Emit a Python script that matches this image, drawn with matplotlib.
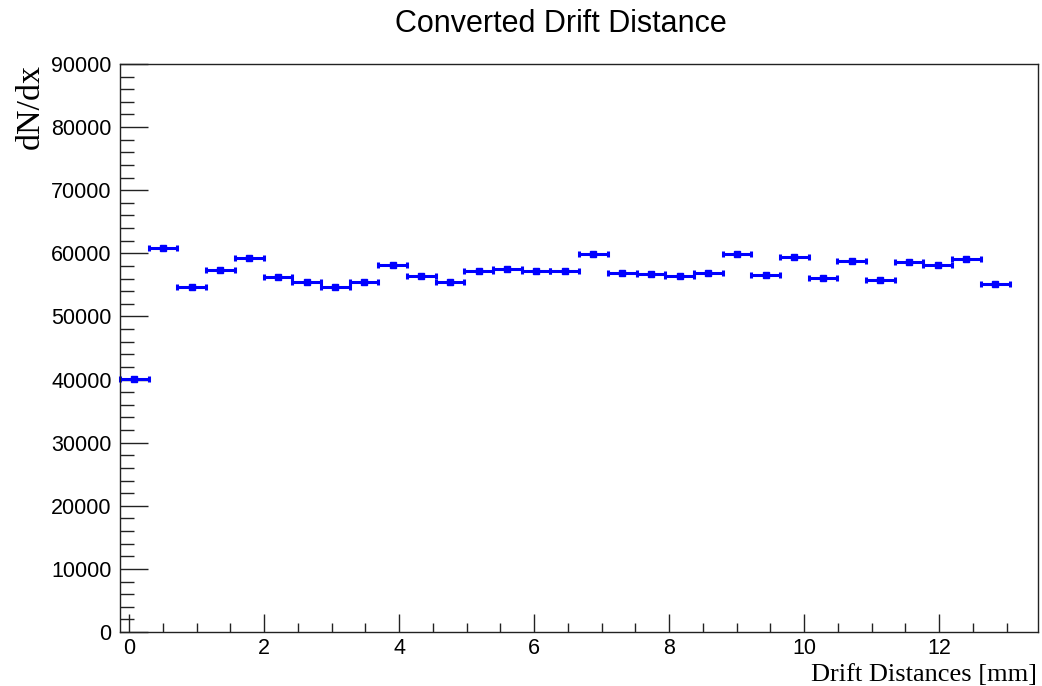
import numpy as np
import matplotlib
matplotlib.use("Agg")
import matplotlib.pyplot as plt
from matplotlib.ticker import MultipleLocator

# Contenu des bins, 32 bins dont le dernier est vide
bin_debut = -0.133
largeur_bin = 0.425
contenus = [40100, 60900, 54700, 57300, 59200, 56250, 55500, 54700, 55400, 58150,
            56400, 55400, 57250, 57500, 57150, 57150, 59900, 56900, 56700, 56450,
            56900, 59850, 56600, 59400, 56050, 58800, 55800, 58600, 58150, 59150,
            55150]
x_min, x_max = -0.133, 13.46
y_min, y_max = 0, 90000

centres = bin_debut + largeur_bin * (np.arange(len(contenus)) + 0.5)

fig = plt.figure(figsize=(10.42, 6.86), dpi=100)
ax = fig.add_axes([0.1152, 0.0787, 0.8807, 0.828])

ax.errorbar(centres, contenus, xerr=largeur_bin / 2, fmt="s", color="#0000ff",
            markersize=4, elinewidth=2.2, capsize=2.5, capthick=2.2, clip_on=False)

ax.set_xlim(x_min, x_max)
ax.set_ylim(y_min, y_max)
ax.xaxis.set_major_locator(MultipleLocator(2))
ax.xaxis.set_minor_locator(MultipleLocator(0.5))
ax.yaxis.set_major_locator(MultipleLocator(10000))
ax.yaxis.set_minor_locator(MultipleLocator(2000))

ax.tick_params(which="both", direction="in", top=False, right=False, colors="#222222",
               labelcolor="black", labelsize=15.5, width=1)
ax.tick_params(axis="y", which="major", length=20, pad=6)
ax.tick_params(axis="y", which="minor", length=10)
ax.tick_params(axis="x", which="major", length=13, pad=4)
ax.tick_params(axis="x", which="minor", length=6.5)
for lab in ax.get_xticklabels() + ax.get_yticklabels():
    lab.set_family("Liberation Sans")
for s in ax.spines.values():
    s.set_linewidth(1)
    s.set_color("#222222")

fig.text(0.538, 0.965, "Converted Drift Distance", ha="center", va="center",
         fontsize=22, family="Liberation Sans")
fig.text(0.995, 0.007, "Drift Distances [mm]", ha="right", va="baseline",
         fontsize=19, family="Liberation Serif")
fig.text(0.029, 0.9067, "dN/dx", ha="center", va="top", rotation=90,
         fontsize=24.5, family="Liberation Serif")

fig.savefig("out.png", dpi=100)
